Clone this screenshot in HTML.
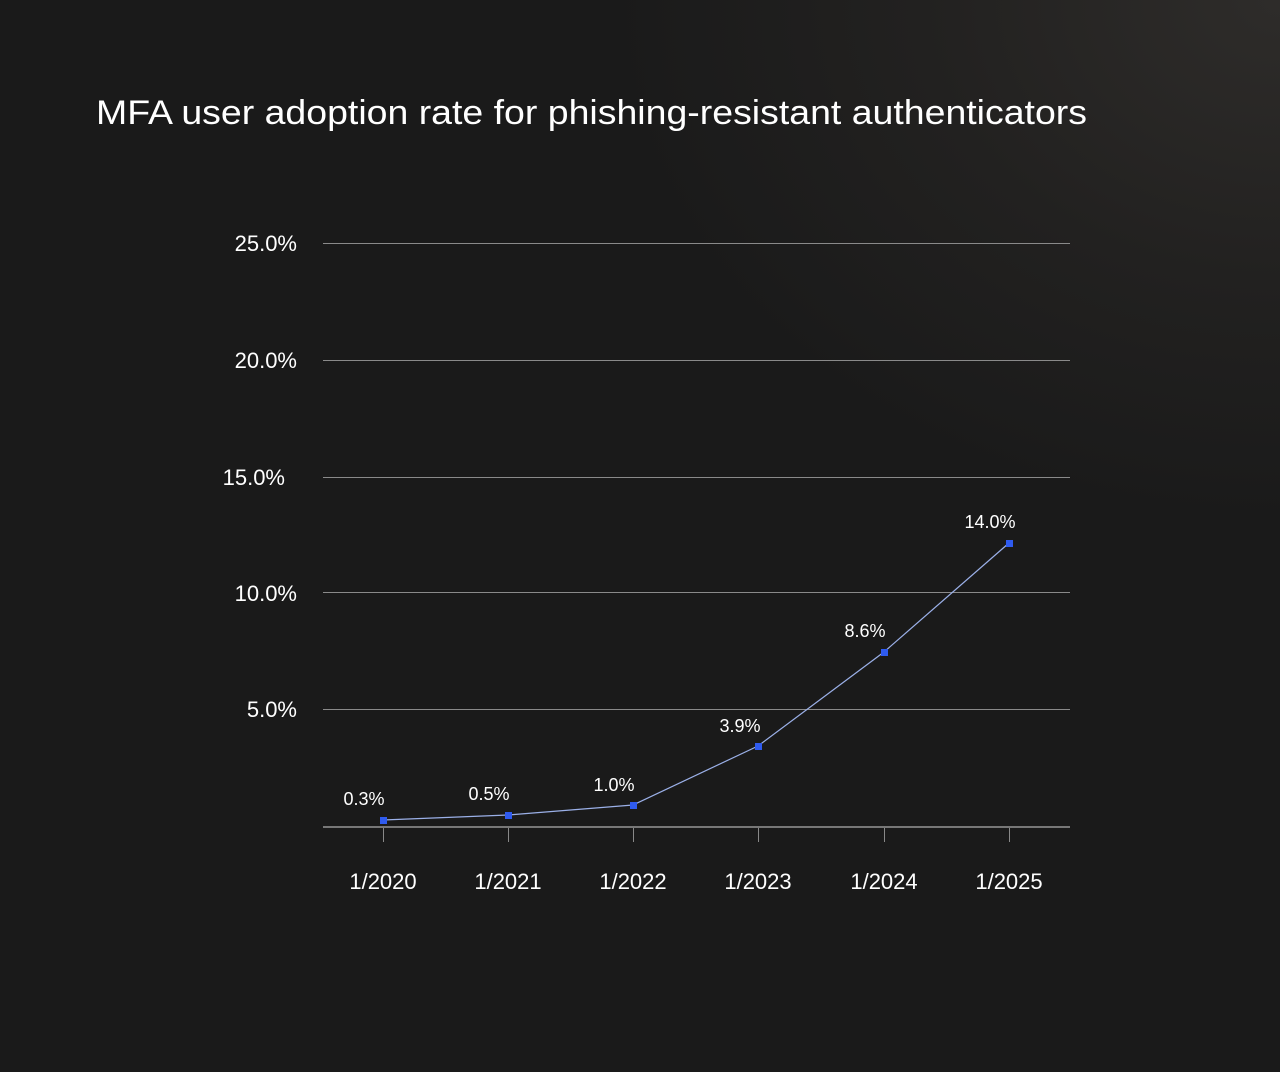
<!DOCTYPE html>
<html><head><style>
html,body{margin:0;padding:0}
body{width:1280px;height:1072px;overflow:hidden;background:radial-gradient(ellipse 900px 700px at 1280px 0px,#2e2c2a 0%,#222120 40%,#1a1a1a 75%),#1a1a1a;font-family:"Liberation Sans",sans-serif}
</style></head><body>
<svg width="1280" height="1072" xmlns="http://www.w3.org/2000/svg" style="position:absolute;left:0;top:0">
<text x="96" y="124" fill="#fff" font-size="34" font-family="Liberation Sans" textLength="991" lengthAdjust="spacingAndGlyphs">MFA user adoption rate for phishing-resistant authenticators</text>
<g stroke="#8a8a8a" stroke-width="1">
<line x1="323" y1="243.5" x2="1070" y2="243.5"/>
<line x1="323" y1="360.5" x2="1070" y2="360.5"/>
<line x1="323" y1="477.5" x2="1070" y2="477.5"/>
<line x1="323" y1="592.5" x2="1070" y2="592.5"/>
<line x1="323" y1="709.5" x2="1070" y2="709.5"/>
</g>
<line x1="323" y1="827" x2="1070" y2="827" stroke="#777" stroke-width="2"/>
<g stroke="#888" stroke-width="1">
<line x1="383.5" y1="828" x2="383.5" y2="842"/><line x1="508.5" y1="828" x2="508.5" y2="842"/>
<line x1="633.5" y1="828" x2="633.5" y2="842"/><line x1="758.5" y1="828" x2="758.5" y2="842"/>
<line x1="884.5" y1="828" x2="884.5" y2="842"/><line x1="1009.5" y1="828" x2="1009.5" y2="842"/>
</g>
<g fill="#fff" font-size="22" text-anchor="end">
<text x="297" y="251">25.0%</text><text x="297" y="368">20.0%</text><text x="285" y="485">15.0%</text>
<text x="297" y="601">10.0%</text><text x="297" y="717">5.0%</text>
</g>
<g fill="#fff" font-size="22" text-anchor="middle">
<text x="383" y="889">1/2020</text><text x="508" y="889">1/2021</text><text x="633" y="889">1/2022</text>
<text x="758" y="889">1/2023</text><text x="884" y="889">1/2024</text><text x="1009" y="889">1/2025</text>
</g>
<polyline points="383,820 508,815 633,805 758,746 884,652 1009,543" fill="none" stroke="#9bb0e8" stroke-width="1.2"/>
<g fill="#2f5bef">
<rect x="380" y="817" width="7" height="7"/><rect x="505" y="812" width="7" height="7"/><rect x="630" y="802" width="7" height="7"/>
<rect x="755" y="743" width="7" height="7"/><rect x="881" y="649" width="7" height="7"/><rect x="1006" y="540" width="7" height="7"/>
</g>
<g fill="#fff" font-size="18" text-anchor="middle">
<text x="364" y="805">0.3%</text><text x="489" y="800">0.5%</text><text x="614" y="791">1.0%</text>
<text x="740" y="732">3.9%</text><text x="865" y="637">8.6%</text><text x="990" y="528">14.0%</text>
</g>
</svg>
</body></html>
